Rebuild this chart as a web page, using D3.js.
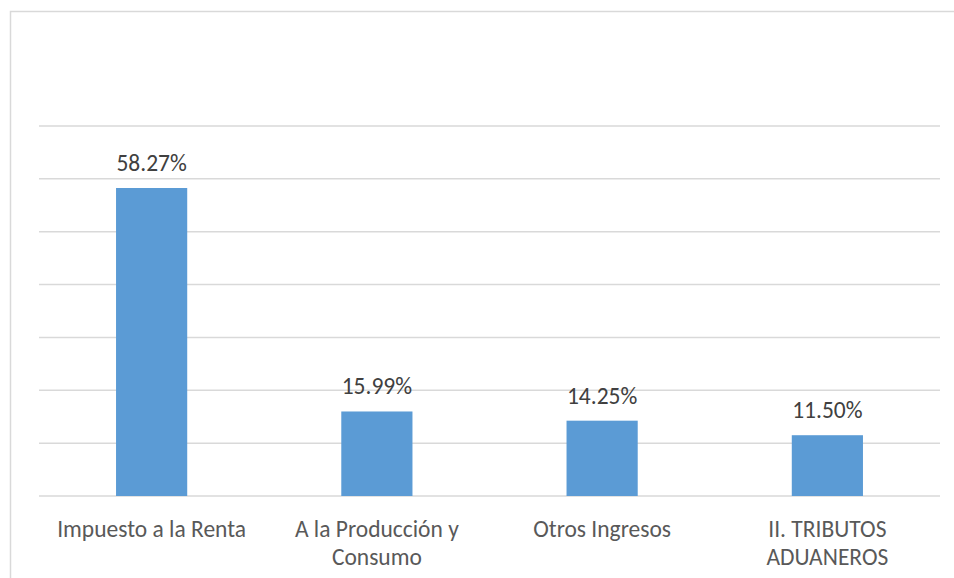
<!DOCTYPE html>
<html>
<head>
<meta charset="utf-8">
<script src="https://cdn.jsdelivr.net/npm/d3@7"></script>
<style>
  html, body { margin: 0; padding: 0; background: #fff; }
  text { font-family: Carlito, Lato, "Open Sans", sans-serif; }
</style>
</head>
<body>
<div id="chart"></div>
<script>
// categories and their shares (%)
const CATEGORIES = ["Impuesto a la Renta", "A la Producción y\nConsumo", "Otros Ingresos", "II. TRIBUTOS\nADUANEROS"];
const VALUES = [58.27, 15.99, 14.25, 11.50];
const Y_TICKS = [0, 10, 20, 30, 40, 50, 60, 70];

const totalW = 954, totalH = 578;
const margin = { top: 126, right: 14, bottom: 82, left: 39 };
const W = totalW - margin.left - margin.right;
const H = totalH - margin.top - margin.bottom;

const root = d3.select("#chart").append("svg")
    .attr("width", totalW).attr("height", totalH);

// outer chart frame (runs past the right/bottom edge in the original)
root.append("rect")
    .attr("x", 10.5).attr("y", 11.5).attr("width", 960).attr("height", 600)
    .attr("fill", "none").attr("stroke", "#d9d9d9").attr("stroke-width", 1.5);

const svg = root.append("g").attr("transform", `translate(${margin.left},${margin.top})`);

const x = d3.scaleBand().domain(CATEGORIES).range([0, W]).paddingInner(0.684).paddingOuter(0.342);
const y = d3.scaleLinear().domain([0, 70]).range([H, 0]);

// gridlines
svg.append("g").selectAll("line").data(Y_TICKS).enter().append("line")
    .attr("x1", 0).attr("x2", W)
    .attr("y1", d => y(d)).attr("y2", d => y(d))
    .attr("stroke", "#d9d9d9").attr("stroke-width", 1.5);

// bars
svg.selectAll(".bar").data(VALUES).enter().append("rect")
    .attr("class", "bar")
    .attr("x", (d, i) => x(CATEGORIES[i]))
    .attr("y", d => y(d))
    .attr("width", x.bandwidth())
    .attr("height", d => H - y(d))
    .attr("fill", "#5b9bd5");

// value labels
svg.selectAll(".val").data(VALUES).enter().append("text")
    .attr("class", "val")
    .attr("x", (d, i) => x(CATEGORIES[i]) + x.bandwidth() / 2)
    .attr("y", d => y(d) - 17)
    .attr("text-anchor", "middle")
    .style("font-size", "23.5px").style("fill", "#404040")
    .text(d => d.toFixed(2) + "%");

// category labels
const cat = svg.selectAll(".cat").data(CATEGORIES).enter().append("text")
    .attr("class", "cat")
    .attr("x", d => x(d) + x.bandwidth() / 2)
    .attr("y", H + 41)
    .attr("text-anchor", "middle")
    .style("font-size", "23.5px").style("fill", "#595959");
cat.each(function(d) {
    const t = d3.select(this);
    d.split("\n").forEach((line, i) => {
        t.append("tspan").attr("x", t.attr("x")).attr("dy", i === 0 ? 0 : 28).text(line);
    });
});
</script>
</body>
</html>
